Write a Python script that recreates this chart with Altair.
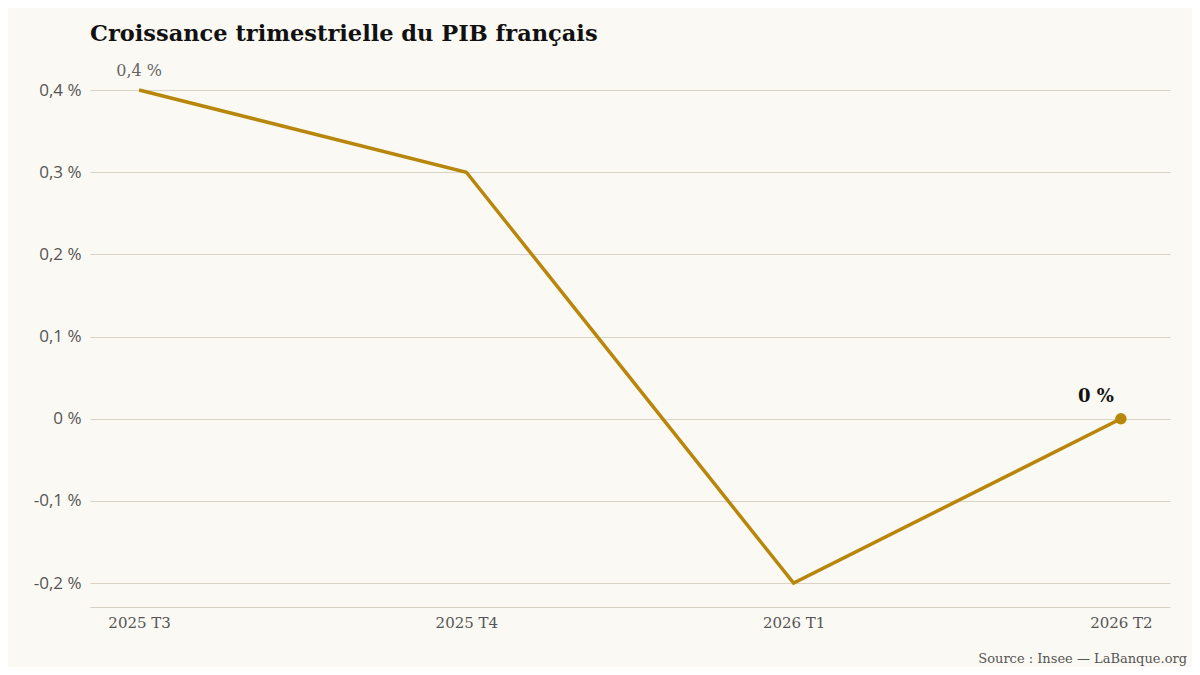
import altair as alt
import pandas as pd

quarters = ["2025 T3", "2025 T4", "2026 T1", "2026 T2"]
growth = [0.4, 0.3, -0.2, 0.0]
first_label = ["0,4 %", "", "", ""]
last_label = ["", "", "", "0 %"]
source_text = "Source : Insee — LaBanque.org"

df = pd.DataFrame({"q": quarters, "v": growth, "l1": first_label, "l2": last_label})

BG = "#FBF9F3"
GOLD = "#B8860B"
SERIF = "DejaVu Serif"
SANS = "Open Sans"

W, H = 1080, 517

x = alt.X("q:N", sort=quarters, title=None,
          scale=alt.Scale(type="point", padding=0.15),
          axis=alt.Axis(labelAngle=0, labelFont=SERIF, labelFontSize=15, labelColor="#555",
                        domain=True, domainColor="#d6d0c4", domainWidth=1.2, ticks=False,
                        labelPadding=8, grid=False))
y = alt.Y("v:Q", title=None,
          scale=alt.Scale(domain=[-0.229, 0.4], nice=False, zero=False),
          axis=alt.Axis(values=[-0.2, -0.1, 0, 0.1, 0.2, 0.3, 0.4],
                        labelExpr="datum.value == 0 ? '0 %' : replace(replace(format(datum.value, '.1f'), '.', ','), '\u2212', '-') + ' %'",
                        labelFont=SANS, labelFontSize=17, labelColor="#555", labelPadding=9,
                        domain=False, ticks=False, grid=True, gridColor="#d9d3c6", gridWidth=1))

base = alt.Chart(df)

line = base.mark_line(color=GOLD, strokeWidth=3.5).encode(x=x, y=y)
pt = base.transform_filter("datum.q == '2026 T2'").mark_point(
    filled=True, color=GOLD, size=130, opacity=1).encode(x=x, y=y)
lab1 = base.mark_text(font=SERIF, fontSize=16, color="#666", dy=-19, baseline="middle").encode(
    x=x, y=y, text="l1:N")
lab2 = base.mark_text(font=SERIF, fontSize=18, fontWeight="bold", color="#111", dx=-25, dy=-22,
                      baseline="middle").encode(x=x, y=y, text="l2:N")
src = alt.Chart(pd.DataFrame({"s": [source_text]})).mark_text(
    font=SERIF, fontSize=13, color="#555", align="right", baseline="middle").encode(
    x=alt.value(W + 17), y=alt.value(H + 52), text="s:N")

chart = alt.layer(line, pt, lab1, lab2, src).properties(
    width=W, height=H,
    title=alt.TitleParams("Croissance trimestrielle du PIB français", anchor="start", frame="group",
                          font=SERIF, fontSize=22.5, fontWeight="bold", color="#111", offset=14),
    background=BG,
    padding={"left": 82, "top": 82, "right": 22, "bottom": 60},
    autosize=alt.AutoSizeParams(type="none"),
).configure_view(stroke=None)

chart.save("out.html", embed_options={"renderer": "svg", "actions": False})
